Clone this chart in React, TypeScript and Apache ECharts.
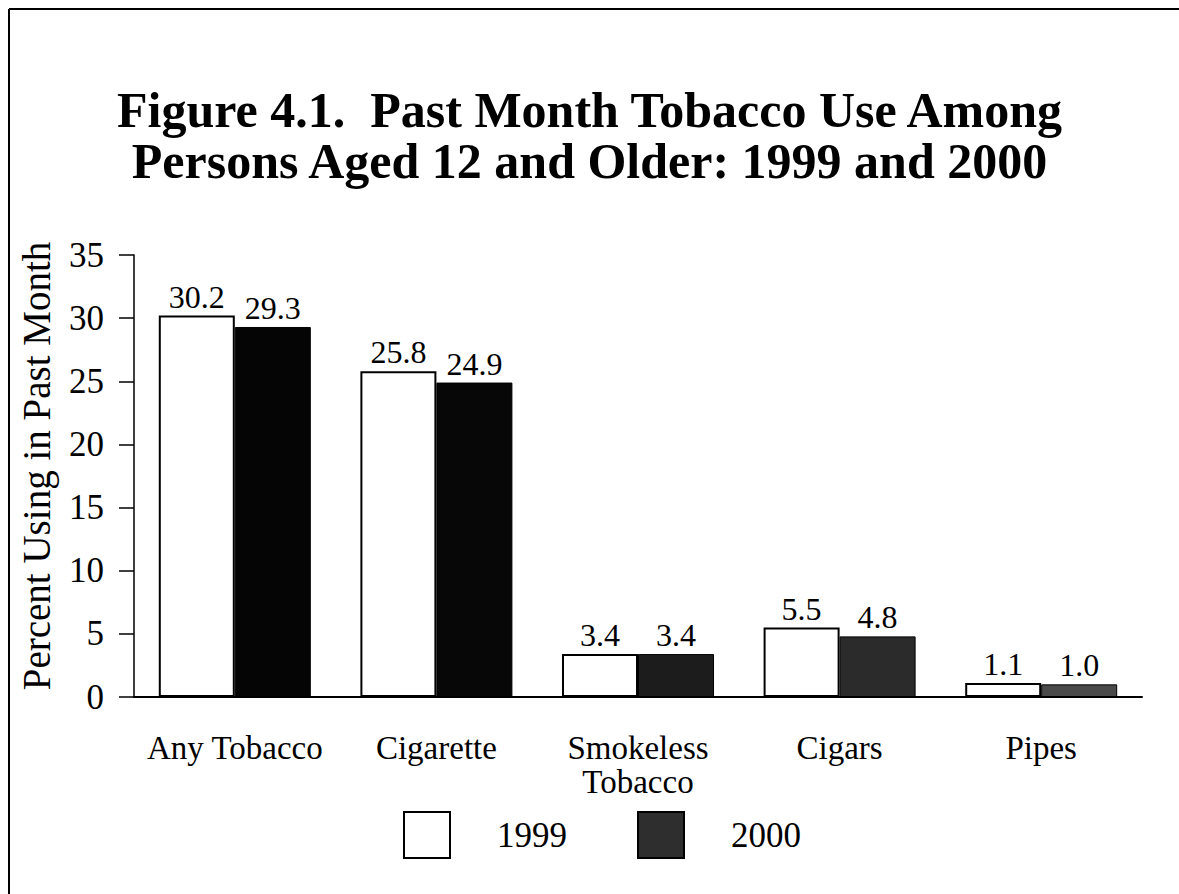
import React, { useEffect, useRef } from "react";
import * as echarts from "echarts";

const categories = ["Any Tobacco", "Cigarette", "Smokeless\nTobacco", "Cigars", "Pipes"];
const values1999 = [30.2, 25.8, 3.4, 5.5, 1.1];
const values2000 = [29.3, 24.9, 3.4, 4.8, 1.0];
// darker fills for the 2000 bars (halftone shading varies per bar)
const fill2000 = ["#050505", "#070707", "#1c1c1c", "#2b2b2b", "#4a4a4a"];
const yTicks = { min: 0, max: 35, interval: 5 };

const FONT = "'Liberation Serif', 'Times New Roman', serif";

export default function App() {
  const ref = useRef<HTMLDivElement>(null);

  useEffect(() => {
    document.body.style.margin = "0";
    const chart = echarts.init(ref.current!, null, { renderer: "svg" });
    const valueLabel = {
      show: true,
      position: "top",
      distance: 3,
      fontFamily: FONT,
      fontSize: 32,
      color: "#000",
      formatter: (p: any) => p.value.toFixed(1),
    };
    chart.setOption({
      animation: false,
      backgroundColor: "#ffffff",
      textStyle: { fontFamily: FONT, color: "#000" },
      title: {
        text: "Figure 4.1.  Past Month Tobacco Use Among\nPersons Aged 12 and Older: 1999 and 2000",
        left: "center",
        top: 79,
        textStyle: {
          fontFamily: FONT,
          fontWeight: "bold",
          fontSize: 50,
          lineHeight: 51,
          color: "#000",
        },
      },
      legend: {
        left: 398,
        top: 806,
        itemWidth: 46,
        itemHeight: 46,
        itemGap: 70,
        icon: "rect",
        textStyle: {
          fontFamily: FONT,
          fontSize: 35,
          color: "#000",
          padding: [0, 0, 0, 42],
        },
        data: ["1999", "2000"],
      },
      grid: { left: 134, right: 37, top: 255, bottom: 197 },
      xAxis: {
        type: "category",
        data: categories,
        axisLine: { lineStyle: { color: "#000", width: 2 } },
        axisTick: { alignWithLabel: true, length: 20, lineStyle: { color: "#000", width: 1.5 } },
        axisLabel: {
          fontFamily: FONT,
          fontSize: 33,
          color: "#000",
          margin: 34,
          lineHeight: 34,
          interval: 0,
        },
      },
      yAxis: {
        type: "value",
        min: yTicks.min,
        max: yTicks.max,
        interval: yTicks.interval,
        name: "Percent Using in Past Month",
        nameLocation: "middle",
        nameGap: 78,
        nameTextStyle: {
          fontFamily: FONT,
          fontSize: 39,
          color: "#000",
          padding: [0, 0, 0, 20],
        },
        axisLine: { show: true, lineStyle: { color: "#000", width: 1.5 } },
        axisTick: { show: true, length: 15, lineStyle: { color: "#000", width: 1.5 } },
        splitLine: { show: false },
        axisLabel: { fontFamily: FONT, fontSize: 35, color: "#000", margin: 30 },
      },
      series: [
        {
          name: "1999",
          type: "bar",
          barWidth: 76,
          barGap: "0%",
          data: values1999,
          itemStyle: { color: "#ffffff", borderColor: "#000", borderWidth: 2 },
          label: valueLabel,
        },
        {
          name: "2000",
          type: "bar",
          barWidth: 76,
          data: values2000.map((v, i) => ({
            value: v,
            itemStyle: { color: fill2000[i] },
          })),
          itemStyle: { color: "#2e2e2e", borderColor: "#000", borderWidth: 1 },
          label: valueLabel,
        },
      ],
      graphic: [
        { type: "line", shape: { x1: 9, y1: 9, x2: 1179, y2: 9 }, style: { stroke: "#000", lineWidth: 2 } },
        { type: "line", shape: { x1: 9, y1: 9, x2: 9, y2: 894 }, style: { stroke: "#000", lineWidth: 2 } },
      ],
    });
    return () => chart.dispose();
  }, []);

  return <div ref={ref} style={{ width: 1179, height: 894 }} />;
}
